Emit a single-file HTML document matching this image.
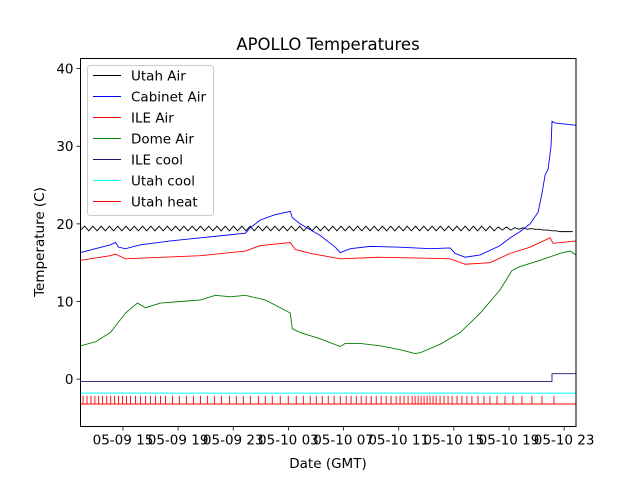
<!DOCTYPE html>
<html><head><meta charset="utf-8"><style>
body{margin:0;background:#fff}
svg text{font-family:"DejaVu Sans","Liberation Sans",sans-serif;fill:#000}
</style></head><body>
<svg id="c" width="640" height="480" xmlns="http://www.w3.org/2000/svg">
<rect width="640" height="480" fill="#fff"/>
<text x="328" y="50" font-size="16.5" text-anchor="middle">APOLLO Temperatures</text>
<text x="328" y="468" font-size="13.5" text-anchor="middle">Date (GMT)</text>
<text x="0" y="0" font-size="13.5" text-anchor="middle" transform="translate(44,242) rotate(-90)">Temperature (C)</text>
<g id="marks"></g>
<g id="axes"></g>
<rect x="80.5" y="58.5" width="495.5" height="368" fill="none" stroke="#000" stroke-width="1"/>
<g id="legend"></g>
</svg>
<script>
// ---- data (time in hours since 05-09 00:00 GMT) ----
const xTickHours=[15,19,23,27,31,35,39,43,47];
const xTickLabels=["05-09 15","05-09 19","05-09 23","05-10 03","05-10 07","05-10 11","05-10 15","05-10 19","05-10 23"];
const yTicks=[0,10,20,30,40];
const seriesNames=["Utah Air","Cabinet Air","ILE Air","Dome Air","ILE cool","Utah cool","Utah heat"];
const seriesColors=["#000000","#0000ff","#ff0000","#008000","#191970","#00ffff","#ff0000"];

const cabinetT=[11.92,14.09,14.46,14.67,15.18,16.27,18.44,20.62,22.79,23.88,24.24,24.96,26.05,27.14,27.28,27.86,29.31,30.40,30.76,31.49,32.93,35.10,37.28,38.73,39.09,39.82,40.91,42.35,43.08,43.80,44.53,45.11,45.40,45.62,45.83,46.05,46.12,46.34,47.86];
const cabinetV=[16.3,17.3,17.6,17.0,16.8,17.3,17.8,18.2,18.6,18.8,19.5,20.5,21.2,21.6,20.8,20.0,18.5,17.0,16.3,16.8,17.1,17.0,16.8,16.9,16.2,15.7,16.0,17.2,18.2,19.0,20.0,21.5,24.0,26.3,27.0,30.0,33.2,33.0,32.7];

const ileAirT=[11.92,14.09,14.46,15.18,20.62,23.88,24.96,27.14,27.50,28.58,30.76,33.66,36.56,38.73,39.82,41.63,43.08,44.53,45.98,46.20,47.86];
const ileAirV=[15.3,15.9,16.1,15.5,15.9,16.5,17.2,17.6,16.7,16.2,15.5,15.7,15.6,15.5,14.8,15.0,16.2,17.0,18.2,17.5,17.8];

const domeT=[11.92,13.0,14.09,15.18,16.05,16.63,17.72,19.17,20.62,21.70,22.79,23.88,25.32,26.41,27.14,27.28,27.86,29.31,30.76,31.12,32.21,33.66,35.10,36.19,36.56,38.01,39.46,40.91,42.35,43.22,43.80,45.25,46.70,47.43,47.86];
const domeV=[4.3,4.8,6.0,8.5,9.8,9.2,9.8,10.0,10.2,10.8,10.6,10.8,10.2,9.2,8.5,6.5,6.0,5.2,4.2,4.6,4.6,4.3,3.8,3.3,3.4,4.5,6.0,8.5,11.5,14.0,14.5,15.3,16.2,16.5,16.0];

const ileCoolT=[11.92,46.12,46.12,47.86];
const ileCoolV=[-0.3,-0.3,0.7,0.7];
const utahCoolT=[11.92,47.86];
const utahCoolV=[-1.8,-1.8];
const utahHeatBase=-3.2;
const utahHeatOn=-2.2;
const utahHeatEvents=[12.11,12.39,12.68,12.96,13.24,13.52,13.82,14.11,14.40,14.68,14.97,15.26,15.55,15.91,16.27,16.63,16.99,17.36,17.72,18.08,18.59,19.09,19.60,20.11,20.62,21.12,21.63,22.14,22.72,23.22,23.73,24.24,24.82,25.32,25.83,26.41,26.99,27.57,28.08,28.58,29.02,29.45,29.89,30.32,30.76,31.19,31.55,31.92,32.28,32.64,33.00,33.37,33.73,34.09,34.45,34.81,35.10,35.39,35.68,35.97,36.19,36.41,36.62,36.84,37.06,37.27,37.49,37.71,38.00,38.29,38.58,38.87,39.23,39.59,39.95,40.31,40.75,41.18,41.62,42.13,42.71,43.29,43.94,44.66,45.39,46.26];

const utahAirStart=11.92, utahAirStep=0.3;
const utahAirV=[19.2,19.7,19.1,19.7,19.1,19.7,19.1,19.7,19.1,19.7,19.1,19.7,19.1,19.7,19.1,19.7,19.1,19.7,19.1,19.7,
19.1,19.7,19.1,19.7,19.1,19.7,19.1,19.7,19.1,19.7,19.1,19.7,19.1,19.7,19.1,19.7,19.1,19.7,19.1,19.7,
19.1,19.7,19.1,19.7,19.1,19.7,19.1,19.7,19.1,19.7,19.1,19.7,19.1,19.7,19.1,19.7,19.1,19.7,19.1,19.7,
19.1,19.7,19.1,19.7,19.1,19.7,19.1,19.7,19.1,19.7,19.1,19.7,19.1,19.7,19.1,19.7,19.1,19.7,19.1,19.7,
19.1,19.7,19.1,19.7,19.1,19.7,19.1,19.7,19.1,19.7,19.1,19.7,19.1,19.7,19.1,19.7,19.1,19.7,19.1,19.7,
19.1,19.6,19.2,19.6,19.2,19.5,19.3,19.5,19.3,19.4,19.3,19.3,19.2,19.2,19.1,19.1,19.0,19.0,19.0,19.0];

// ---- axes ----
const X0=80.5,X1=576,Y0=426.5,Y1=58.5;
const tMin=11.92,tMax=47.86,vMin=-6.1,vMax=41.3;
function xs(t){return X0+(t-tMin)/(tMax-tMin)*(X1-X0);}
function ys(v){return Y0-(v-vMin)/(vMax-vMin)*(Y0-Y1);}
const NS="http://www.w3.org/2000/svg";
function mk(tag,attrs,parent){const e=document.createElementNS(NS,tag);for(const k in attrs)e.setAttribute(k,attrs[k]);parent.appendChild(e);return e;}
const marks=document.getElementById('marks'),axes=document.getElementById('axes'),leg=document.getElementById('legend');

function line(ts,vs,color,name){
  const p=ts.map((t,i)=>xs(t).toFixed(2)+','+ys(vs[i]).toFixed(2)).join(' ');
  const el=mk('polyline',{points:p,fill:'none',stroke:color,'stroke-width':0.9},marks);
  
  
}
// Utah air
const uaT=utahAirV.map((v,i)=>utahAirStart+i*utahAirStep);
line(uaT,utahAirV,seriesColors[0],'utah-air-line');
line(cabinetT,cabinetV,seriesColors[1],'cabinet-air-line');
line(ileAirT,ileAirV,seriesColors[2],'ile-air-line');
line(domeT,domeV,seriesColors[3],'dome-air-line');
line(ileCoolT,ileCoolV,seriesColors[4],'ile-cool-line');
line(utahCoolT,utahCoolV,seriesColors[5],'utah-cool-line');
// Utah heat as step with spikes
const hT=[tMin],hV=[utahHeatBase];
utahHeatEvents.forEach(t=>{hT.push(t,t,t+0.001,t+0.001);hV.push(utahHeatBase,utahHeatOn,utahHeatOn,utahHeatBase);});
hT.push(tMax);hV.push(utahHeatBase);
line(hT,hV,seriesColors[6],'utah-heat-line');

xTickHours.forEach((t,i)=>{
  const x=xs(t);
  const tk=mk('line',{x1:x,x2:x,y1:Y0,y2:Y0+4,stroke:'#000','stroke-width':0.8},axes);
  
  
  const tx=mk('text',{x:x,y:Y0+18,'font-size':13.5,'text-anchor':'middle'},axes);
  tx.textContent=xTickLabels[i];
  
  
});
yTicks.forEach(v=>{
  const y=ys(v);
  const tk=mk('line',{x1:X0-4,x2:X0,y1:y,y2:y,stroke:'#000','stroke-width':0.8},axes);
  
  
  const tx=mk('text',{x:X0-7,y:y+5,'font-size':13.5,'text-anchor':'end'},axes);
  tx.textContent=v;
  
  
});

// legend
const lb=mk('rect',{x:87.5,y:65.5,width:126,height:150,rx:3,fill:'#fff','fill-opacity':0.8,stroke:'#ccc'},leg);


seriesNames.forEach((n,i)=>{
  const y=75.5+i*21;
  const g=mk('g',{},leg);
  
  
  mk('line',{x1:93,x2:121,y1:y,y2:y,stroke:seriesColors[i],'stroke-width':0.9},g);
  const t=mk('text',{x:131,y:y+5,'font-size':13.5},g);
  t.textContent=n;
});
</script>
</body></html>
